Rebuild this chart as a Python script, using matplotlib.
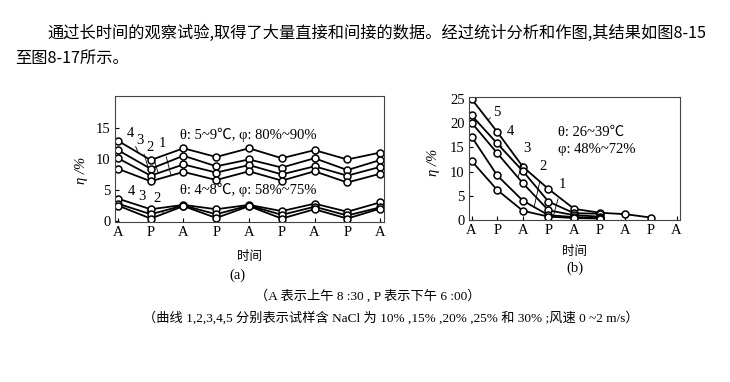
import matplotlib
matplotlib.use("Agg")
import matplotlib.pyplot as plt
import numpy as np

# x positions: alternating morning (A, 8:30) and evening (P, 18:00) readings
tick_labels = ["A", "P", "A", "P", "A", "P", "A", "P", "A"]

# (a) theta 5~9 C, phi 80%~90%  -- curves 1..4
a_hi = {
    "4": [12.9, 9.8, 11.7, 10.3, 11.7, 10.1, 11.4, 9.9, 11.0],
    "3": [11.4, 8.4, 10.5, 8.8, 9.9, 8.6, 10.1, 8.2, 9.8],
    "2": [10.1, 7.3, 9.1, 7.8, 9.0, 7.5, 8.8, 7.3, 8.7],
    "1": [8.4, 6.4, 7.9, 6.6, 8.0, 6.5, 8.0, 6.2, 7.6],
}
# (a) theta 4~8 C, phi 58%~75%
a_lo = {
    "4": [3.6, 1.9, 2.6, 1.9, 2.6, 1.6, 2.8, 1.5, 3.0],
    "3": [2.8, 1.1, 2.5, 1.1, 2.5, 1.0, 2.3, 0.9, 2.2],
    "2": [2.5, 0.4, 2.4, 0.5, 2.4, 0.4, 1.9, 0.4, 2.0],
}
# (b) theta 26~39 C, phi 48%~72%
b_curves = {
    "5": [25.0, 18.2, 11.0, 6.4, 2.3, 1.5, 1.2, 0.5],
    "4": [21.6, 15.8, 10.1, 3.8, 1.4, 1.3],
    "3": [20.1, 13.8, 7.6, 2.0, 1.0, 0.7],
    "2": [17.2, 9.2, 4.0, 1.0, 0.6, 0.4],
    "1": [12.2, 6.2, 1.9, 0.7, 0.4, 0.3],
}

serif = ["Liberation Serif", "Noto Sans CJK SC", "DejaVu Sans"]
cjk = ["Noto Sans CJK SC", "DejaVu Sans"]

W, H = 730, 382
fig = plt.figure(figsize=(W / 100, H / 100), dpi=100)
fig.patch.set_facecolor("white")


def box(l, t, r, b):
    return [l / W, 1 - b / H, (r - l) / W, (b - t) / H]


def style(ax):
    ax.tick_params(direction="in", length=3, width=0.8, pad=3)
    ax.set_xticks(range(9))
    ax.set_xticklabels(tick_labels, fontfamily=serif, fontsize=10.5)
    for lab in ax.get_yticklabels():
        lab.set_fontfamily(serif)
        lab.set_fontsize(10.5)
    for s in ax.spines.values():
        s.set_linewidth(0.8)
        s.set_color("#444444")


mk = dict(marker="o", markersize=5, markerfacecolor="white",
          markeredgecolor="black", markeredgewidth=1.1, color="black", linewidth=1.3)

# ---- panel (a)
axa = fig.add_axes(box(115, 96, 384, 222))
for k, v in a_hi.items():
    axa.plot(range(len(v)), v, **mk)
for k, v in a_lo.items():
    axa.plot(range(len(v)), v, **mk)
axa.set_xlim(-0.09, 8.12)
axa.set_ylim(-0.15, 20.1)
axa.set_yticks([0, 5, 10, 15])
style(axa)
axa.set_ylabel("η /%", fontfamily=serif, fontstyle="italic", fontsize=10.5)
axa.yaxis.set_label_coords(-0.10, 0.41)
axa.set_xlabel("时间", fontfamily=cjk, fontsize=9, labelpad=8)

lab_hi = {"4": (0.37, 14.1), "3": (0.67, 12.9), "2": (0.98, 11.9), "1": (1.37, 12.5)}
for k, (tx, ty) in lab_hi.items():
    xx = tx + 0.25
    axa.annotate(k, xy=(xx, np.interp(xx, range(9), a_hi[k])), xytext=(tx, ty),
                 fontfamily=serif, fontsize=10.5, ha="center", va="center",
                 arrowprops=dict(arrowstyle="-", lw=0.6, shrinkA=3, shrinkB=0))
lab_lo = {"4": (0.40, 4.8), "3": (0.73, 3.9), "2": (1.19, 3.7)}
for k, (tx, ty) in lab_lo.items():
    xx = tx + 0.2
    axa.annotate(k, xy=(xx, np.interp(xx, range(9), a_lo[k])), xytext=(tx, ty),
                 fontfamily=serif, fontsize=10.5, ha="center", va="center",
                 arrowprops=dict(arrowstyle="-", lw=0.6, shrinkA=3, shrinkB=0))
axa.text(1.9, 13.8, "θ: 5~9℃, φ: 80%~90%", fontfamily=serif,
         fontsize=10.5, va="center")
axa.text(1.9, 5.0, "θ: 4~8℃, φ: 58%~75%", fontfamily=serif,
         fontsize=10.5, va="center")

# ---- panel (b)
axb = fig.add_axes(box(469, 97, 680, 220))
for k, v in b_curves.items():
    axb.plot(range(len(v)), v, **mk)
axb.set_xlim(-0.1, 8.13)
axb.set_ylim(0, 25.4)
axb.set_yticks([0, 5, 10, 15, 20, 25])
style(axb)
axb.set_ylabel("η /%", fontfamily=serif, fontstyle="italic", fontsize=10.5)
axb.yaxis.set_label_coords(-0.137, 0.47)
axb.set_xlabel("时间", fontfamily=cjk, fontsize=9, labelpad=6)

lab_b = {"5": (0.99, 22.3), "4": (1.5, 18.2), "3": (2.16, 14.7),
         "2": (2.79, 11.0), "1": (3.53, 7.4)}
for k, (tx, ty) in lab_b.items():
    xx = tx - 0.35
    v = b_curves[k]
    axb.annotate(k, xy=(xx, np.interp(xx, range(len(v)), v)), xytext=(tx, ty),
                 fontfamily=serif, fontsize=10.5, ha="center", va="center",
                 arrowprops=dict(arrowstyle="-", lw=0.6, shrinkA=4, shrinkB=0))
axb.text(3.37, 18.2, "θ: 26~39℃", fontfamily=serif, fontsize=10.5, va="center")
axb.text(3.37, 14.5, "φ: 48%~72%", fontfamily=serif, fontsize=10.5, va="center")

# ---- panel letters and captions
fig.text(237 / W, 1 - 275 / H, "(a)", fontfamily=serif, fontsize=10.5, ha="center", va="center")
fig.text(575 / W, 1 - 268 / H, "(b)", fontfamily=serif, fontsize=10.5, ha="center", va="center")
fig.text(368 / W, 1 - 296 / H, "（A 表示上午 8 :30 , P 表示下午 6 :00）",
         fontfamily=serif, fontsize=9.5, ha="center", va="center")
fig.text(391 / W, 1 - 318 / H,
         "（曲线 1,2,3,4,5 分别表示试样含 NaCl 为 10% ,15% ,20% ,25% 和 30% ;风速 0 ~2 m/s）",
         fontfamily=serif, fontsize=9.5, ha="center", va="center")

# ---- paragraph text above
fig.text(47 / W, 1 - 33 / H,
         "通过长时间的观察试验,取得了大量直接和间接的数据。经过统计分析和作图,其结果如图8-15",
         fontfamily=cjk, fontsize=11.7, va="center")
fig.text(15 / W, 1 - 58 / H, "至图8-17所示。", fontfamily=cjk, fontsize=11.7, va="center")

fig.savefig("out.png", dpi=100, facecolor="white")
